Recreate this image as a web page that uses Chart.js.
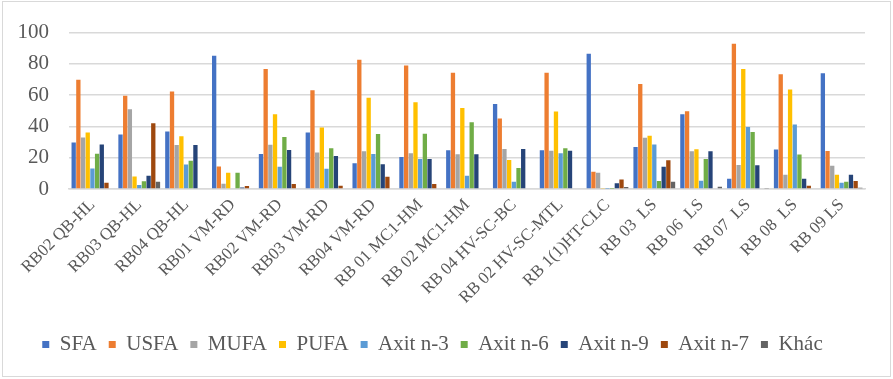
<!DOCTYPE html>
<html lang="vi">
<head>
<meta charset="UTF-8">
<title>Thành phần axit béo</title>
<script src="https://cdn.jsdelivr.net/npm/chart.js"></script>
<style>
    body { margin: 0; background: #fff; }
    /* khung ngoài của biểu đồ */
    #frame {
        position: absolute;
        left: 2px; top: 1px;
        width: 887px; height: 374px;
        border: 1px solid #d9d9d9;
    }
    #wrap {
        position: absolute;
        left: 0; top: 0;
        width: 893px; height: 379px;
    }
</style>
</head>
<body>
<div id="frame"></div>
<div id="wrap"><canvas id="chart"></canvas></div>

<script>
// Tên mẫu
const categories = [
    'RB02 QB-HL', 'RB03 QB-HL', 'RB04 QB-HL', 'RB01 VM-RD', 'RB02 VM-RD',
    'RB03 VM-RD', 'RB04 VM-RD', 'RB 01 MC1-HM', 'RB 02 MC1-HM', 'RB 04 HV-SC-BC',
    'RB 02 HV-SC-MTL', 'RB 1(1)HT-CLC', 'RB 03  LS', 'RB 06  LS', 'RB 07  LS',
    'RB 08  LS', 'RB 09 LS'
];

// Số liệu (%) theo từng nhóm axit béo
const sfa   = [29.8, 34.9, 36.8, 85.2, 22.4, 36.2, 16.5, 20.5, 24.7, 54.3, 24.7, 86.5, 26.8, 47.8, 6.6, 25.2, 74.0];
const usfa  = [69.8, 59.6, 62.4, 14.4, 76.7, 63.2, 82.7, 78.9, 74.4, 45.0, 74.4, 11.0, 67.2, 49.7, 92.8, 73.4, 24.3];
const mufa  = [33.0, 51.0, 28.1, 3.4, 28.3, 23.3, 24.1, 22.8, 22.2, 25.6, 24.5, 10.4, 32.8, 24.1, 15.4, 9.1, 14.8];
const pufa  = [36.2, 8.0, 33.8, 10.4, 47.8, 39.3, 58.4, 55.4, 51.8, 18.6, 49.5, 0.3, 34.0, 25.4, 76.7, 63.6, 9.1];
const n3    = [13.1, 2.5, 15.6, 0, 14.2, 12.9, 22.4, 19.2, 8.5, 4.7, 22.8, 0.2, 28.5, 5.3, 39.7, 41.2, 4.0];
const n6    = [22.6, 4.9, 18.0, 10.4, 33.2, 26.0, 35.1, 35.3, 42.7, 13.5, 26.0, 0.2, 5.1, 19.2, 36.4, 22.0, 4.7];
const n9    = [28.5, 8.5, 28.1, 1.0, 24.9, 21.1, 15.9, 19.2, 22.2, 25.6, 24.5, 3.6, 14.2, 24.1, 15.2, 6.6, 9.1];
const n7    = [4.0, 42.0, 0, 1.9, 3.2, 2.1, 7.8, 3.2, 0, 0, 0, 6.1, 18.4, 0, 0, 2.1, 5.1];
const khac  = [0, 4.7, 0, 0, 0, 0, 0, 0, 0, 0, 0, 1.3, 4.7, 1.5, 0.3, 0.4, 0.8];

const yTicks = [0, 20, 40, 60, 80, 100];

const seriesNames  = ['SFA', 'USFA', 'MUFA', 'PUFA', 'Axit n-3', 'Axit n-6', 'Axit n-9', 'Axit n-7', 'Khác'];
const seriesData   = [sfa, usfa, mufa, pufa, n3, n6, n9, n7, khac];
const seriesColors = ['#4472C4', '#ED7D31', '#A5A5A5', '#FFC000', '#5B9BD5', '#70AD47', '#264478', '#9E480E', '#636363'];

const textColor = '#595959';
const serif = "'Liberation Serif', 'Times New Roman', serif";

Chart.defaults.font.family = serif;
Chart.defaults.color = textColor;

const datasets = seriesNames.map((name, i) => ({
    label: name,
    data: seriesData[i],
    backgroundColor: seriesColors[i],
    borderWidth: 0,
    barPercentage: 0.92,
    categoryPercentage: 0.9
}));

new Chart(document.getElementById('chart'), {
    type: 'bar',
    data: { labels: categories, datasets: datasets },
    options: {
        responsive: true,
        maintainAspectRatio: false,
        animation: false,
        layout: { padding: { left: 0, right: 28, top: 22, bottom: 14 } },
        plugins: {
            tooltip: { enabled: false },
            legend: {
                position: 'bottom',
                labels: {
                    color: textColor,
                    font: { family: serif, size: 21 },
                    boxWidth: 7,
                    boxHeight: 7,
                    padding: 12
                }
            }
        },
        scales: {
            x: {
                grid: { display: false, drawTicks: false },
                border: { color: '#d9d9d9', width: 1.5 },
                ticks: {
                    color: textColor,
                    font: { family: serif, size: 17 },
                    minRotation: 45,
                    maxRotation: 45,
                    autoSkip: false,
                    padding: 6
                },
                afterFit: (scale) => { scale.height = 133; }
            },
            y: {
                min: 0,
                max: 100,
                afterBuildTicks: (scale) => { scale.ticks = yTicks.map(v => ({ value: v })); },
                grid: { color: '#d9d9d9', lineWidth: 1.5, drawTicks: false },
                border: { display: false },
                ticks: {
                    color: textColor,
                    font: { family: serif, size: 21 },
                    padding: 20
                },
                afterFit: (scale) => { scale.width = 69; }
            }
        }
    }
});
</script>
</body>
</html>
